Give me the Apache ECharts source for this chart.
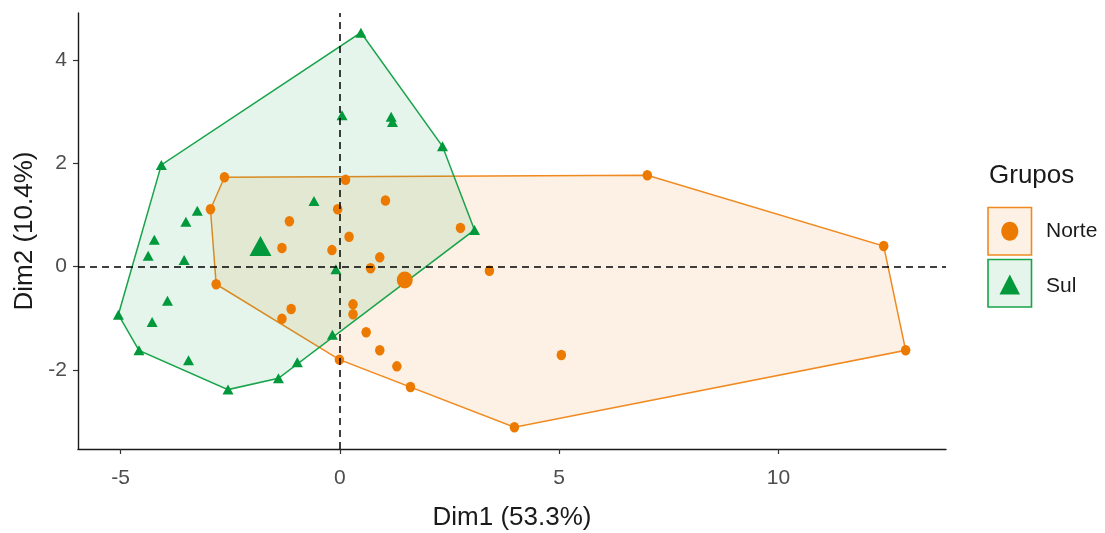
<!DOCTYPE html>
<html>
<head>
<meta charset="utf-8">
<script src="https://cdn.jsdelivr.net/npm/echarts@6/dist/echarts.min.js"></script>
<style>
  html, body { margin: 0; padding: 0; background: #ffffff; }
  #chart { width: 1105px; height: 533px; }
</style>
</head>
<body>
<div id="chart"></div>
<script>
// PCA individuals, coloured by group
const groupNames = ['Norte', 'Sul'];

const norteDim1 = [-2.63, 0.13, 7.01, -2.95, 1.04, -0.05, -1.15, 0.21, 2.75, 12.40, -1.32, -0.18, 0.91, 0.70,
                   3.41, -2.82, -1.11, -1.32, 0.30, 0.30, 0.60, 0.91, -0.01, 1.30, 1.61, 5.05, 12.90, 3.98];
const norteDim2 = [1.73, 1.68, 1.77, 1.11, 1.28, 1.11, 0.88, 0.58, 0.75, 0.40, 0.36, 0.32, 0.18, -0.03,
                   -0.08, -0.34, -0.82, -1.01, -0.73, -0.92, -1.27, -1.62, -1.80, -1.93, -2.33, -1.71, -1.62, -3.11];

const sulDim1 = [0.48, 0.05, 1.17, 1.20, 2.34, -4.07, -0.59, -3.25, -3.51, -4.23, -4.37, -3.55, -0.09, 3.07,
                 -3.93, -5.05, -4.28, -0.17, -4.58, -3.45, -0.97, -1.40, -2.55];
const sulDim2 = [4.53, 2.93, 2.90, 2.80, 2.33, 1.97, 1.27, 1.08, 0.87, 0.52, 0.21, 0.13, -0.05, 0.71,
                 -0.66, -0.93, -1.07, -1.32, -1.62, -1.81, -1.85, -2.16, -2.38];

// group means
const norteMean = [1.48, -0.26];
const sulMean = [-1.81, 0.40];

const xTicks = [-5, 0, 5, 10];
const yTicks = [-2, 0, 2, 4];
const xTitle = 'Dim1 (53.3%)';
const yTitle = 'Dim2 (10.4%)';
const legendTitle = 'Grupos';

const ORANGE = '#EC7A00';
const GREEN = '#01993C';
const ORANGE_LINE = '#F08A20';
const GREEN_LINE = '#19A34A';
const ORANGE_FILL = 'rgba(236,122,0,0.10)';
const GREEN_FILL = 'rgba(1,153,60,0.10)';
const FONT = '"Liberation Sans", Arial, sans-serif';

function zip(xs, ys) { return xs.map((x, i) => [x, ys[i]]); }

// convex hull (monotone chain)
function convexHull(pts) {
  const p = pts.slice().sort((a, b) => a[0] - b[0] || a[1] - b[1]);
  const cross = (o, a, b) => (a[0] - o[0]) * (b[1] - o[1]) - (a[1] - o[1]) * (b[0] - o[0]);
  const lower = [];
  for (const q of p) {
    while (lower.length >= 2 && cross(lower[lower.length - 2], lower[lower.length - 1], q) <= 0) lower.pop();
    lower.push(q);
  }
  const upper = [];
  for (let i = p.length - 1; i >= 0; i--) {
    const q = p[i];
    while (upper.length >= 2 && cross(upper[upper.length - 2], upper[upper.length - 1], q) <= 0) upper.pop();
    upper.push(q);
  }
  upper.pop(); lower.pop();
  return lower.concat(upper);
}

const nortePts = zip(norteDim1, norteDim2);
const sulPts = zip(sulDim1, sulDim2);
const norteHull = convexHull(nortePts);
const sulHull = convexHull(sulPts);

function hullSeries(name, hull, stroke, fill) {
  return {
    name: name,
    type: 'custom',
    silent: true,
    z: 1,
    data: [hull[0]],
    renderItem: function (params, api) {
      const pts = hull.map(h => api.coord(h));
      return {
        type: 'polygon',
        shape: { points: pts },
        style: { fill: fill, stroke: stroke, lineWidth: 1.5 }
      };
    }
  };
}

const dot = 'path://M0,1A1,1 0 1,1 2,1A1,1 0 1,1 0,1Z';

const chart = echarts.init(document.getElementById('chart'), null, { renderer: 'canvas' });

const axisCommon = {
  type: 'value',
  splitLine: { show: false },
  axisLine: { show: true, onZero: false, lineStyle: { color: '#1a1a1a', width: 1.4 } },
  axisTick: { show: true, length: 5, lineStyle: { color: '#333333', width: 1.2 } },
  nameTextStyle: { fontFamily: FONT, fontSize: 26, color: '#1a1a1a' },
  nameLocation: 'middle'
};

chart.setOption({
  animation: false,
  backgroundColor: '#ffffff',
  grid: { left: 78, top: 13, width: 868, height: 436, containLabel: false, outerBoundsMode: 'none' },
  xAxis: Object.assign({}, axisCommon, {
    min: -5.97, max: 13.82,
    name: xTitle, nameGap: 56,
    axisTick: Object.assign({}, axisCommon.axisTick, { customValues: xTicks }),
    axisLabel: { customValues: xTicks, color: '#4D4D4D', fontFamily: FONT, fontSize: 21, margin: 19 }
  }),
  yAxis: Object.assign({}, axisCommon, {
    min: -3.53, max: 4.91,
    name: yTitle, nameGap: 33, nameRotate: 90,
    axisTick: Object.assign({}, axisCommon.axisTick, { customValues: yTicks }),
    axisLabel: { customValues: yTicks, color: '#4D4D4D', fontFamily: FONT, fontSize: 21, margin: 11 }
  }),
  series: [
    hullSeries('Norte hull', norteHull, ORANGE_LINE, ORANGE_FILL),
    hullSeries('Sul hull', sulHull, GREEN_LINE, GREEN_FILL),
    {
      name: 'Norte', type: 'scatter', z: 3,
      data: nortePts, symbol: dot, symbolSize: [9.5, 10.5],
      itemStyle: { color: ORANGE, opacity: 1 },
      markLine: {
        silent: true, symbol: 'none', label: { show: false },
        lineStyle: { color: '#000000', type: [7, 5], width: 1.5, opacity: 1 },
        data: [{ xAxis: 0 }, { yAxis: 0 }]
      }
    },
    {
      name: 'Sul', type: 'scatter', z: 3,
      data: sulPts, symbol: 'triangle', symbolSize: [11, 10],
      itemStyle: { color: GREEN, opacity: 1 }
    },
    {
      name: 'Norte mean', type: 'scatter', z: 4,
      data: [norteMean], symbol: dot, symbolSize: [16, 17],
      itemStyle: { color: ORANGE, opacity: 1 }
    },
    {
      name: 'Sul mean', type: 'scatter', z: 4,
      data: [sulMean], symbol: 'triangle', symbolSize: [22, 20],
      itemStyle: { color: GREEN, opacity: 1 }
    }
  ],
  graphic: [
    { type: 'text', left: 989, top: 163, style: { text: legendTitle, font: '26px ' + FONT, fill: '#1a1a1a' } },
    { type: 'rect', shape: { x: 988, y: 207.5, width: 43.5, height: 47.5 },
      style: { fill: ORANGE_FILL, stroke: ORANGE_LINE, lineWidth: 1.6 } },
    { type: 'ellipse', shape: { cx: 1009.8, cy: 231.3, rx: 8.5, ry: 9.5 }, style: { fill: ORANGE } },
    { type: 'text', left: 1046, top: 221, style: { text: groupNames[0], font: '21px ' + FONT, fill: '#1a1a1a' } },
    { type: 'rect', shape: { x: 988, y: 259.5, width: 43.5, height: 47.5 },
      style: { fill: GREEN_FILL, stroke: GREEN_LINE, lineWidth: 1.6 } },
    { type: 'polygon', shape: { points: [[999.5, 294.5], [1020, 294.5], [1009.8, 274.5]] }, style: { fill: GREEN } },
    { type: 'text', left: 1046, top: 276, style: { text: groupNames[1], font: '21px ' + FONT, fill: '#1a1a1a' } }
  ]
});
</script>
</body>
</html>
